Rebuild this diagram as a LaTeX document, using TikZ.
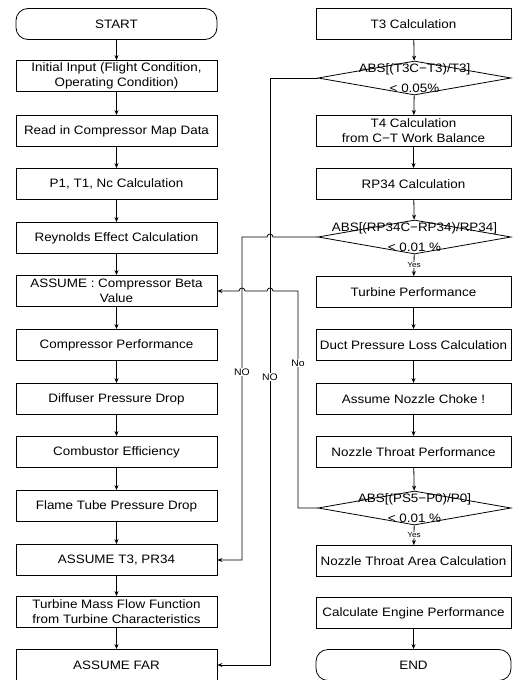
\documentclass[tikz,border=0pt]{standalone}
\usepackage{fontspec}
\setmainfont{Liberation Sans}[FakeStretch=1.1]
\usetikzlibrary{shapes.geometric,arrows.meta}

\begin{document}
\begin{tikzpicture}[
  x=1pt, y=-1pt,
  font=\fontsize{12.2}{15}\selectfont,
  block/.style={rectangle, draw, line width=0.8pt, minimum width=201pt, minimum height=31pt, inner sep=1pt, align=center},
  rblock/.style={block, minimum width=195pt},
  terminal/.style={block, rounded corners=12pt},
  check/.style={diamond, draw, line width=0.8pt, minimum width=193pt, minimum height=34pt, inner sep=0pt},
  checktext/.style={align=center, inner sep=0pt, font=\fontsize{12.2}{20}\selectfont},
  flow/.style={draw, line width=0.8pt, -{Stealth[length=5pt,width=4pt]}},
  tag/.style={fill=white, inner sep=0.5pt, font=\fontsize{9.5}{10}\selectfont},
  yes/.style={fill=white, inner sep=0.5pt, font=\fontsize{7.5}{8}\selectfont}
]
  \useasboundingbox (0,0) rectangle (512,680);

  % compressor / combustor side
  \node[terminal] (start) at (116.5,24) {START};
  \node[block] (input) at (116.5,76) {Initial Input (Flight Condition,\\Operating Condition)};
  \node[block] (mapdata) at (116.5,131) {Read in Compressor Map Data};
  \node[block] (inlet) at (116.5,184) {P1, T1, Nc Calculation};
  \node[block] (reynolds) at (116.5,238) {Reynolds Effect Calculation};
  \node[block] (beta) at (116.5,291) {ASSUME : Compressor Beta\\Value};
  \node[block] (comp) at (116.5,345) {Compressor Performance};
  \node[block] (diffuser) at (116.5,399) {Diffuser Pressure Drop};
  \node[block] (burner) at (116.5,452) {Combustor Efficiency};
  \node[block] (flametube) at (116.5,506) {Flame Tube Pressure Drop};
  \node[block] (guess) at (116.5,560) {ASSUME T3, PR34};
  \node[block] (massflow) at (116.5,612) {Turbine Mass Flow Function\\from Turbine Characteristics};
  \node[block] (far) at (116.5,665) {ASSUME FAR};

  % turbine / nozzle side
  \node[rblock] (tcalc) at (413.5,24) {T3 Calculation};
  \node[check] (chk1) at (414.5,78) {};
  \node[checktext] (chk1txt) at (chk1) {ABS[(T3C−T3)/T3]\\< 0.05\%};
  \node[rblock] (work) at (413.5,131) {T4 Calculation\\from C−T Work Balance};
  \node[rblock] (rpcalc) at (413.5,184) {RP34 Calculation};
  \node[check] (chk2) at (414.5,237) {};
  \node[checktext] (chk2txt) at (chk2) {ABS[(RP34C−RP34)/RP34]\\< 0.01 \%};
  \node[rblock] (turb) at (413.5,292) {Turbine Performance};
  \node[rblock] (duct) at (413.5,345) {Duct Pressure Loss Calculation};
  \node[rblock] (choke) at (413.5,399) {Assume Nozzle Choke !};
  \node[rblock] (nozzle) at (413.5,452) {Nozzle Throat Performance};
  \node[check] (chk3) at (414.5,508) {};
  \node[checktext] (chk3txt) at (chk3) {ABS[(PS5−P0)/P0]\\< 0.01 \%};
  \node[rblock] (area) at (413.5,561) {Nozzle Throat Area Calculation};
  \node[rblock] (engine) at (413.5,613) {Calculate Engine Performance};
  \node[terminal, minimum width=195pt] (stop) at (413.5,665) {END};

  \foreach \a/\b in {start/input, input/mapdata, mapdata/inlet, inlet/reynolds,
      reynolds/beta, beta/comp, comp/diffuser, diffuser/burner, burner/flametube,
      flametube/guess, guess/massflow, massflow/far}
    \draw[flow] (\a) -- (\b);
  \foreach \a/\b in {tcalc/chk1, chk1/work, work/rpcalc, rpcalc/chk2, turb/duct,
      duct/choke, choke/nozzle, nozzle/chk3, engine/stop}
    \draw[flow] (\a) -- (\b);
  \draw[flow] (chk2) -- node[yes] (yes1) {Yes} (turb);
  \draw[flow] (chk3) -- node[yes] (yes2) {Yes} (area);

  % iteration loops, with hops where they cross
  \draw[flow] (chk1.west) -- (270,78) |- (far.east);
  \draw[flow] (chk2.west) -- (273,237) arc[start angle=0, end angle=180, radius=3pt]
    -- (242,237) |- (guess.east);
  \draw[flow] (chk3.west) -- (298,508) -- (298,291) -- (273,291)
    arc[start angle=0, end angle=180, radius=3pt] -- (245,291)
    arc[start angle=0, end angle=180, radius=3pt] -- (beta.east);
  \node[tag] (no1) at (242,372) {NO};
  \node[tag] (no2) at (270,377) {NO};
  \node[tag] (no3) at (298,363) {No};
\end{tikzpicture}
\end{document}
